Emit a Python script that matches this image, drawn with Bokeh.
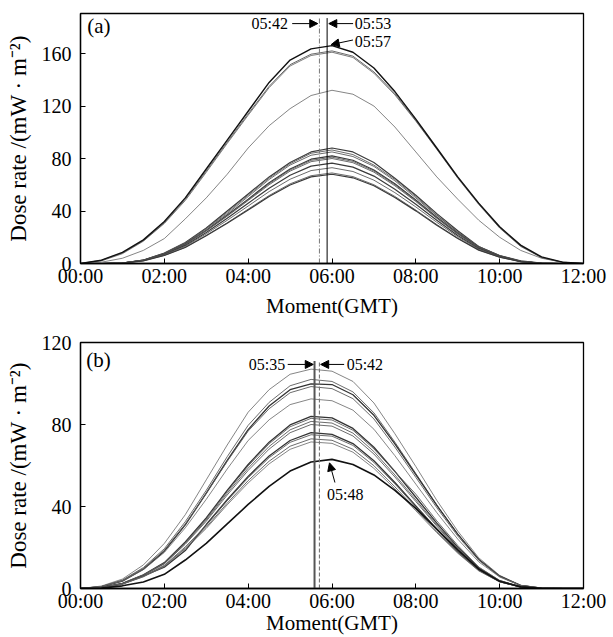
from bokeh.plotting import figure
from bokeh.layouts import column
from bokeh.models import Range1d, FixedTicker, Label, Arrow, NormalHead
from bokeh.embed import file_html
from bokeh.resources import INLINE

# ---------------- data ----------------
hours = [0, 0.5, 1, 1.5, 2, 2.5, 3, 3.5, 4, 4.5, 5, 5.5, 6,
         6.5, 7, 7.5, 8, 8.5, 9, 9.5, 10, 10.5, 11, 11.5, 12]
x_tick_values = [0, 2, 4, 6, 8, 10, 12]
x_tick_labels = ["00:00", "02:00", "04:00", "06:00", "08:00", "10:00", "12:00"]
a_y_ticks = [0, 40, 80, 120, 160]
b_y_ticks = [0, 40, 80, 120]

# panel (a)
a_high_1 = [0, 2.5, 8.5, 18, 32, 50, 72, 94, 116, 138, 155, 163.5, 166, 161, 149, 131, 110, 88, 66, 46, 28, 14, 5, 1, 0]
a_high_2 = [0, 2.5, 8, 17.5, 31, 49, 70.5, 92.5, 114, 135, 151.5, 159.5, 162, 158, 146, 129.5, 109, 87.5, 65.5, 45.5, 27.5, 13.5, 4.5, 1, 0]
a_high_3 = [0, 2, 7.5, 17, 30.5, 48, 69.5, 91.5, 113, 134, 150.5, 158.5, 161, 157, 145, 128.5, 108.5, 87, 65, 45, 27, 13, 4.5, 0.8, 0]
a_mid = [0, 1, 4, 10, 19, 34, 50, 68, 88, 105, 118, 128, 132, 129, 120, 104, 85, 66, 49, 33, 20, 10, 4, 1, 0]
a_low_1 = [0, 0, 0.4, 2.6, 8, 16, 27, 40, 53, 66, 77, 85, 88, 85, 77, 65, 52, 38, 25, 13, 6, 2, 0.3, 0, 0]
a_low_2 = [0, 0, 0.4, 2.6, 7.8, 15.6, 26.8, 39, 52, 65, 76, 84, 86.5, 83, 75, 64, 51, 37, 24, 13, 6, 1.7, 0.3, 0, 0]
a_low_3 = [0, 0, 0.4, 2.5, 7.6, 15.3, 26.4, 38, 51, 64, 75, 82.5, 85, 81.5, 74, 63, 50, 36.5, 24, 12.8, 6, 1.7, 0.3, 0, 0]
a_low_4 = [0, 0, 0.4, 2.5, 7.4, 14.8, 25.4, 37, 49, 61.5, 72, 79.5, 82, 78.7, 71.3, 60.7, 48.4, 35.3, 23, 12.3, 5.7, 1.6, 0.2, 0, 0]
a_low_5 = [0, 0, 0.4, 2.4, 7.3, 14.6, 25, 36.5, 48.6, 60.8, 71.3, 78.6, 81, 77.8, 70.5, 60, 47.8, 34.8, 22.7, 12.2, 5.7, 1.6, 0.2, 0, 0]
a_low_6 = [0, 0, 0.4, 2.4, 7.2, 14.4, 24.8, 36, 48, 60, 70.4, 77.6, 80, 76.8, 69.6, 59.2, 47.2, 34.4, 22.4, 12, 5.6, 1.6, 0.2, 0, 0]
a_low_7 = [0, 0, 0.4, 2.3, 6.9, 13.8, 23.7, 34.4, 45.9, 57.4, 67.3, 74.2, 76.5, 73.4, 66.6, 56.6, 45.1, 32.9, 21.4, 11.5, 5.4, 1.5, 0.2, 0, 0]
a_low_8 = [0, 0, 0.4, 2.2, 6.6, 13.1, 22.6, 32.9, 43.8, 54.8, 64.2, 70.8, 73, 70.1, 63.5, 54, 43.1, 31.4, 20.4, 11, 5.1, 1.5, 0.2, 0, 0]
a_low_9 = [0, 0, 0.3, 2.1, 6.2, 12.4, 21.4, 31, 41.4, 51.8, 60.7, 66.9, 69, 66.2, 60, 51.1, 40.7, 29.7, 19.3, 10.4, 4.8, 1.4, 0.2, 0, 0]
a_low_10 = [0, 0, 0.3, 2, 6.1, 12.2, 21.1, 30.6, 40.8, 51, 59.8, 66, 68, 65.3, 59.2, 50.3, 40.1, 29.2, 19, 10.2, 4.8, 1.4, 0.2, 0, 0]

# panel (b)
b_1 = [0, 1.2, 4.6, 11.5, 22, 36, 53, 70, 86, 97, 104.5, 107, 106, 101, 90.5, 75.5, 59.5, 43, 28, 15, 6.4, 1.6, 0.2, 0, 0]
b_2 = [0, 1, 4.1, 10.2, 19.4, 32.6, 47.9, 64.3, 79.6, 90.8, 98.9, 102, 101, 95.9, 85.7, 71.4, 56.1, 40.8, 26.5, 14.3, 6.1, 1.5, 0.2, 0, 0]
b_3 = [0, 0.8, 3.6, 9.4, 18.2, 31, 46.5, 62.5, 77.5, 89, 97, 99.8, 99.5, 94.5, 84.5, 70.5, 55.5, 40.5, 26.5, 14.2, 6, 1.5, 0.2, 0, 0]
b_4 = [0, 1, 3.9, 9.8, 18.7, 31.5, 46.3, 62, 76.8, 87.7, 95.5, 98.5, 97.5, 92.6, 82.7, 69, 54.2, 39.4, 25.6, 13.8, 5.9, 1.5, 0.2, 0, 0]
b_5 = [0, 0.9, 3.7, 9.2, 17.6, 29.6, 43.5, 58.3, 72.2, 82.3, 89.7, 92.5, 91.6, 87, 77.7, 64.8, 50.9, 37, 24.1, 13, 5.6, 1.4, 0.2, 0, 0]
b_6 = [0, 0.4, 2.5, 6.7, 12.6, 22.7, 34.4, 47.9, 60.5, 71.4, 79.8, 84, 83.2, 78.1, 68.9, 57.1, 44.5, 31.9, 20.2, 10.1, 3.8, 0.8, 0.1, 0, 0]
b_7 = [0, 0.4, 2.5, 6.6, 12.5, 22.4, 34, 47.3, 59.8, 70.6, 78.9, 83, 82.2, 77.2, 68.1, 57, 46, 33, 21, 10.5, 3.9, 0.8, 0.1, 0, 0]
b_8 = [0, 0.4, 2.4, 6.5, 12.2, 22, 33.4, 46.5, 58.7, 69.3, 77.4, 81.5, 80.7, 75.8, 66.8, 55.4, 43.2, 31, 19.6, 9.8, 3.7, 0.8, 0.1, 0, 0]
b_9 = [0, 0.4, 2.4, 6.4, 12, 21.6, 32.8, 45.6, 57.6, 68, 76, 80, 79.2, 74.4, 65.6, 54.4, 42.4, 30.4, 19.2, 9.6, 3.6, 0.8, 0.1, 0, 0]
b_10 = [0, 0.4, 2.3, 6.1, 10.4, 18.5, 31.2, 43.3, 54.7, 64.6, 72.2, 76, 75.2, 70.7, 62.3, 51.7, 40.3, 28.9, 18.2, 9.1, 3.4, 0.8, 0.1, 0, 0]
b_11 = [0, 0.4, 2.3, 6, 11.3, 20.3, 30.8, 42.8, 54, 63.8, 71.3, 75, 74.3, 69.8, 61.5, 51, 39.8, 28.5, 18, 9, 3.4, 0.8, 0.1, 0, 0]
b_12 = [0, 0.4, 2.2, 5.8, 11, 19.7, 29.9, 41.6, 52.6, 62.1, 69.4, 73, 72.3, 67.9, 59.9, 49.6, 38.7, 27.7, 17.5, 8.8, 3.3, 0.7, 0.1, 0, 0]
b_13 = [0, 0.4, 2.1, 5.7, 10.7, 19.3, 29.3, 40.8, 51.5, 60.8, 67.9, 71.5, 70.8, 66.5, 58.6, 48.6, 37.9, 27.2, 17.2, 8.6, 3.2, 0.7, 0.1, 0, 0]
b_14 = [0, 0.2, 1.3, 3.2, 6.9, 13.9, 22, 31.5, 41, 49.8, 57.3, 61.7, 63, 60.5, 55.4, 47.9, 39.1, 29, 18.9, 9.5, 3.5, 0.8, 0.1, 0, 0]

a_marks = ["05:42", "05:53", "05:57"]
b_marks = ["05:35", "05:42", "05:48"]

FONT = "Liberation Serif"


def to_h(s):
    hh, mm = s.split(":")
    return int(hh) + int(mm) / 60.0


def make_fig(ymax, yticks, height, bl, br, bt, bb, xlab_standoff):
    p = figure(width=613, height=height, x_range=Range1d(0, 12), y_range=Range1d(0, ymax),
               output_backend="svg", toolbar_location=None,
               min_border_left=bl, min_border_right=br, min_border_top=bt, min_border_bottom=bb)
    p.grid.visible = False
    p.outline_line_color = "black"
    p.outline_line_width = 1.3
    p.outline_line_alpha = 1
    p.xaxis.ticker = FixedTicker(ticks=x_tick_values)
    p.xaxis.major_label_overrides = {v: l for v, l in zip(x_tick_values, x_tick_labels)}
    p.yaxis.ticker = FixedTicker(ticks=yticks)
    for ax in (p.xaxis[0], p.yaxis[0]):
        ax.axis_line_color = "black"
        ax.axis_line_width = 1.3
        ax.major_tick_in = 5
        ax.major_tick_out = 0
        ax.major_tick_line_color = "black"
        ax.minor_tick_line_color = None
        ax.major_label_text_font = FONT
        ax.major_label_text_font_size = "20px"
        ax.major_label_text_color = "black"
        ax.axis_label_text_font = FONT
        ax.axis_label_text_font_style = "normal"
        ax.axis_label_text_color = "black"
    p.xaxis.axis_label = "Moment(GMT)"
    p.xaxis.axis_label_text_font_size = "21px"
    p.xaxis.major_label_standoff = 1
    p.xaxis.axis_label_standoff = xlab_standoff
    p.yaxis.axis_label = "Dose rate /(mW \u00b7 m\u207b\u00b2)"
    p.yaxis.axis_label_text_font_size = "23px"
    p.yaxis.major_label_standoff = 9
    p.yaxis.axis_label_standoff = 8
    return p


def add_label(p, x, y, text, size="16px", align="left"):
    p.add_layout(Label(x=x, y=y, text=text, text_font=FONT, text_font_size=size,
                       text_align=align, text_baseline="middle", text_color="black"))


def add_arrow(p, x0, y0, x1, y1):
    p.add_layout(Arrow(x_start=x0, y_start=y0, x_end=x1, y_end=y1, line_width=1, line_color="black",
                       end=NormalHead(size=8, line_color="black", fill_color="black", line_width=1)))


# ---------------- panel (a) ----------------
pa = make_fig(190.5, a_y_ticks, 320, 77, 27, 13, 53, 4)

a_thin = [a_low_1, a_low_2, a_low_3, a_low_4, a_low_5, a_low_6, a_low_7, a_low_8, a_low_9, a_low_10]
for i, ys in enumerate(a_thin):
    pa.line(hours, ys, line_color="#3a3a3a" if i % 3 == 0 else "#5a5a5a",
            line_width=1.2 if i % 3 == 0 else 0.9)
pa.line(hours, a_mid, line_color="#666666", line_width=0.8)
pa.line(hours, a_high_3, line_color="#6a6a6a", line_width=0.9)
pa.line(hours, a_high_2, line_color="#5a5a5a", line_width=0.9)
pa.line(hours, a_high_1, line_color="#111111", line_width=1.4)

t42, t53, t57 = (to_h(s) for s in a_marks)
pa.segment(x0=[t42], y0=[0], x1=[t42], y1=[187], line_color="#777777", line_width=1, line_dash="5 2 1 2")
pa.segment(x0=[t53], y0=[0], x1=[t53], y1=[187], line_color="black", line_width=1)
ya = 182.8
add_arrow(pa, t42 - 0.65, ya, t42 - 0.04, ya)
add_label(pa, t42 - 0.75, ya, a_marks[0], align="right")
add_arrow(pa, t53 + 0.62, ya, t53 + 0.04, ya)
add_label(pa, t53 + 0.66, ya, a_marks[1])
add_arrow(pa, t57 + 0.55, 170.3, t57 + 0.03, 166.8)
add_label(pa, t57 + 0.59, 169.5, a_marks[2])
add_label(pa, 0.16, 181, "(a)", size="21px")

# ---------------- panel (b) ----------------
pb = make_fig(120, b_y_ticks, 317, 80, 30, 22, 44, -4)

b_styles = [
    (b_1, "#666666", 0.8), (b_2, "#5a5a5a", 0.9), (b_3, "#333333", 1.3), (b_4, "#5a5a5a", 0.9),
    (b_5, "#666666", 0.8), (b_6, "#333333", 1.3), (b_7, "#5a5a5a", 0.9), (b_8, "#5a5a5a", 0.9),
    (b_9, "#5a5a5a", 0.9), (b_10, "#333333", 1.3), (b_11, "#5a5a5a", 0.9), (b_12, "#5a5a5a", 0.9),
    (b_13, "#666666", 0.8), (b_14, "#111111", 1.6),
]
for ys, c, w in b_styles:
    pb.line(hours, ys, line_color=c, line_width=w)

t35, t42b, t48 = (to_h(s) for s in b_marks)
pb.segment(x0=[t35], y0=[0], x1=[t35], y1=[111], line_color="#555555", line_width=2)
pb.segment(x0=[t42b], y0=[0], x1=[t42b], y1=[111], line_color="#777777", line_width=1.1, line_dash="4 2")
yb = 109.3
add_arrow(pb, t35 - 0.64, yb, t35 - 0.03, yb)
add_label(pb, t35 - 0.7, yb, b_marks[0], align="right")
add_arrow(pb, t42b + 0.59, yb, t42b + 0.03, yb)
add_label(pb, t42b + 0.65, yb, b_marks[1])
add_arrow(pb, t48 + 0.27, 51.7, t48 + 0.14, 61.3)
add_label(pb, t48 + 0.08, 45.7, b_marks[2])
add_label(pb, 0.14, 111.5, "(b)", size="21px")

layout = column(pa, pb)
open("out.html", "w").write(file_html(layout, INLINE))
